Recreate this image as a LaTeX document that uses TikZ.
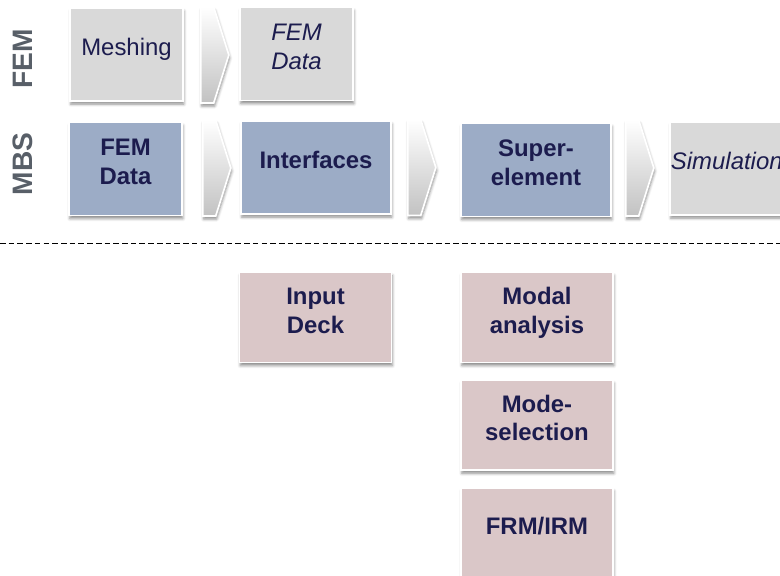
\documentclass[tikz,border=0pt]{standalone}
\usepackage{fontspec}
\setmainfont{Liberation Sans}
\usepackage{xcolor}
\definecolor{boxgray}{RGB}{217,217,217}
\definecolor{boxblue}{RGB}{156,172,198}
\definecolor{boxrose}{RGB}{218,199,200}
\definecolor{txtnavy}{RGB}{28,28,78}
\definecolor{lblgray}{RGB}{88,95,104}
\usetikzlibrary{positioning, shapes.symbols, shadows.blur}
% box text sits a bit above the middle
\newcommand{\lift}[1]{\raisebox{3.2pt}[\height][\depth]{\begin{tabular}{@{}c@{}}#1\end{tabular}}}

\begin{document}
\begin{tikzpicture}[
    x=0.025cm, y=-0.025cm,
    shd/.style={blur shadow={shadow xshift=0.6pt, shadow yshift=-2.2pt, shadow opacity=45, shadow blur radius=2pt}},
    box/.style={draw=white, line width=1.2pt, inner sep=0pt, minimum width=2.825cm, minimum height=2.325cm,
      text=txtnavy, font=\fontsize{17}{20.5}\selectfont, shd},
    gbox/.style={box, fill=boxgray},
    bbox/.style={box, fill=boxblue, font=\fontsize{17}{20.5}\selectfont\bfseries},
    rbox/.style={box, fill=boxrose, font=\fontsize{17}{20.5}\selectfont\bfseries, minimum width=3.8cm, minimum height=2.25cm},
    wide/.style={minimum width=3.75cm},
    chev/.style={signal, signal to=east, signal from=nowhere, signal pointer angle=145, anchor=west,
      minimum width=0.7cm, minimum height=2.4cm, inner sep=0pt, draw=white, line width=1.2pt,
      top color=white, bottom color=black!24, shd},
    rowlbl/.style={rotate=90, text=lblgray, font=\fontsize{20}{20}\selectfont\bfseries},
    sep/.style={dashed, dash pattern=on 4pt off 2.2pt, line width=0.7pt},
  ]
    \useasboundingbox (0,0) rectangle (780,575);

    % row labels
    \node[rowlbl] (femlbl) at (23,59) {FEM};
    \node[rowlbl] (mbslbl) at (23,164) {MBS};

    % FEM row
    \node[gbox] (mesh) at (126.5,54.5) {\lift{Meshing}};
    \node[chev] (ar1) at (200,55) {};
    \node[gbox] (femout) at (296.5,54) {\itshape\lift{FEM\\Data}};

    % MBS row
    \node[bbox] (femin) at (125.5,169) {\lift{FEM\\Data}};
    \node[chev] (ar2) at (202,168) {};
    \node[bbox, wide] (interf) at (316,167.5) {\lift{Interfaces}};
    \node[chev] (ar3) at (407,167.5) {};
    \node[bbox, wide] (superel) at (536,170) {\lift{Super-\\element}};
    \node[chev] (ar4) at (625,168) {};
    \node[gbox, wide, text width=3.7cm, align=left] (sim) at (745,168.5) {\itshape\lift{Simulation}};

    % separator
    \coordinate (sepl) at (0,243);
    \coordinate (sepr) at (780,243);
    \draw[sep] (sepl) -- (sepr);

    % detail steps
    \node[rbox] (deck) at (315.5,317.5) {\lift{Input\\Deck}};
    \node[rbox] (modal) at (537,317.5) {\lift{Modal\\analysis}};
    \node[rbox, below=0.4cm of modal] (modesel) {\lift{Mode-\\selection}};
    \node[rbox, below=0.4cm of modesel] (frm) {\lift{FRM/IRM}};
\end{tikzpicture}
\end{document}
